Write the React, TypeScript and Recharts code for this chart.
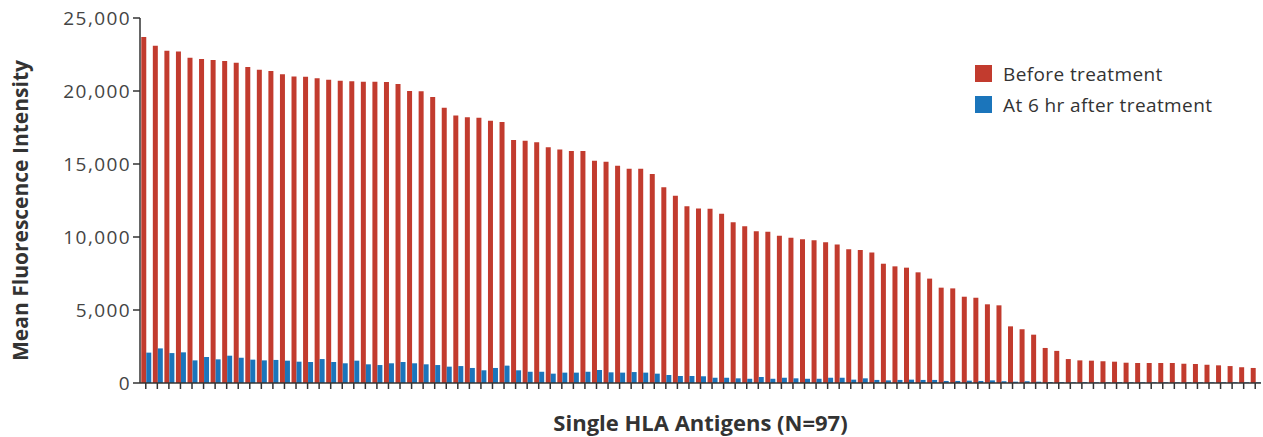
import { Bar, BarChart, Label, XAxis, YAxis } from 'recharts';

document.body.style.margin = '0';

// Mean fluorescence intensity per single HLA antigen, sorted by pre-treatment value
const BEFORE_TREATMENT = [
  23700, 23100, 22760, 22700, 22280, 22190, 22120, 22050, 21940, 21640,
  21460, 21370, 21140, 21000, 20980, 20870, 20770, 20710, 20660, 20640,
  20640, 20620, 20480, 20000, 19980, 19590, 18860, 18330, 18200, 18170,
  17970, 17880, 16640, 16600, 16490, 16140, 16000, 15890, 15890, 15230,
  15160, 14880, 14680, 14680, 14320, 13400, 12830, 12100, 11960, 11940,
  11600, 11010, 10730, 10390, 10360, 10090, 9950, 9840, 9770, 9640,
  9480, 9160, 9110, 8930, 8170, 7990, 7900, 7580, 7150, 6530,
  6480, 5910, 5840, 5390, 5320, 3880, 3680, 3310, 2400, 2200,
  1640, 1550, 1530, 1490, 1460, 1390, 1370, 1370, 1370, 1370,
  1320, 1300, 1250, 1210, 1160, 1080, 1030,
];

const AFTER_6_HR = [
  2080, 2370, 2050, 2100, 1550, 1780, 1620, 1870, 1730, 1600,
  1550, 1580, 1530, 1460, 1440, 1640, 1440, 1350, 1530, 1280,
  1230, 1350, 1440, 1350, 1280, 1230, 1120, 1160, 1030, 870,
  1030, 1190, 870, 770, 770, 640, 710, 710, 770, 890,
  730, 710, 750, 710, 640, 550, 480, 480, 460, 360,
  360, 320, 290, 410, 290, 360, 320, 290, 290, 360,
  360, 230, 320, 210, 180, 210, 230, 210, 210, 140,
  140, 160, 140, 180, 120, 90, 120, 90, 70, 60,
  50, 60, 50, 50, 60, 50, 50, 50, 50, 50,
  50, 50, 50, 50, 50, 50, 50,
];

const Y_TICKS = [0, 5000, 10000, 15000, 20000, 25000];

const SERIES = [
  { key: 'before', name: 'Before treatment', color: '#C23B2E' },
  { key: 'after', name: 'At 6 hr after treatment', color: '#1B75BB' },
];

const data = BEFORE_TREATMENT.map((before, i) => ({
  antigen: `HLA ${i + 1}`,
  before,
  after: AFTER_6_HR[i],
}));

const FONT = '"Open Sans", "Noto Sans", sans-serif';
const AXIS_COLOR = '#333';

export default function App() {
  return (
    <div style={{ position: 'relative', width: 1263, height: 437, fontFamily: FONT }}>
      <BarChart
        width={1263}
        height={437}
        data={data}
        margin={{ top: 18, right: 2, bottom: 0, left: 0 }}
        barCategoryGap="11%"
        barGap={0}
      >
        <XAxis
          dataKey="antigen"
          interval={0}
          tickFormatter={() => ''}
          tickSize={6}
          height={54}
          stroke={AXIS_COLOR}
          strokeWidth={1.5}
        >
          <Label
            content={({ viewBox }: any) => (
              <text
                x={viewBox.x + viewBox.width / 2}
                y={viewBox.y + 39}
                textAnchor="middle"
                dominantBaseline="central"
                fontFamily={FONT}
                fontWeight={700}
                fontSize={22}
                fill="#333"
              >
                Single HLA Antigens (N=97)
              </text>
            )}
          />
        </XAxis>
        <YAxis
          width={140}
          domain={[0, 25000]}
          ticks={Y_TICKS}
          interval={0}
          tickSize={7}
          tickMargin={2}
          tickFormatter={(v: number) => v.toLocaleString('en-US')}
          tick={{ fill: '#444', fontSize: 19, fontFamily: FONT, letterSpacing: 1.4 }}
          stroke={AXIS_COLOR}
          strokeWidth={1.5}
        >
          <Label
            content={({ viewBox }: any) => {
              const cx = 20;
              const cy = viewBox.y + viewBox.height / 2 + 10;
              return (
                <text
                  x={cx}
                  y={cy}
                  transform={`rotate(-90 ${cx} ${cy})`}
                  textAnchor="middle"
                  dominantBaseline="central"
                  fontFamily={FONT}
                  fontWeight={700}
                  fontSize={21}
                  fill="#333"
                >
                  Mean Fluorescence Intensity
                </text>
              );
            }}
          />
        </YAxis>
        {SERIES.map((s) => (
          <Bar key={s.key} dataKey={s.key} name={s.name} fill={s.color} isAnimationActive={false} />
        ))}
      </BarChart>
      <div style={{ position: 'absolute', left: 975, top: 58 }}>
        {SERIES.map((s) => (
          <div
            key={s.key}
            style={{
              display: 'flex',
              alignItems: 'center',
              height: 31,
              fontSize: 19,
              letterSpacing: 0.4,
              color: '#333',
            }}
          >
            <span style={{ width: 17, height: 17, background: s.color, marginRight: 11 }} />
            {s.name}
          </div>
        ))}
      </div>
    </div>
  );
}
